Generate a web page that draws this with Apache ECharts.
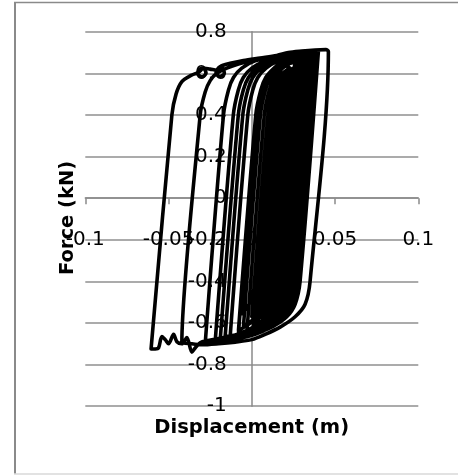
<!DOCTYPE html>
<html>
<head>
<meta charset="utf-8">
<script src="https://cdn.jsdelivr.net/npm/echarts@6/dist/echarts.min.js"></script>
<style>
  html, body { margin: 0; padding: 0; background: #fff; }
  #chart { width: 458px; height: 475px; }
</style>
</head>
<body>
<div id="chart"></div>
<script>
// Axis ticks
const xTicks = [-0.1, -0.05, 0, 0.05, 0.1];
const yTicks = [-1, -0.8, -0.6, -0.4, -0.2, 0, 0.2, 0.4, 0.6, 0.8];

// Force-displacement record [displacement (m), force (kN)], in time order
const buildUp = [
  [0.000, 0.000],
  [0.004, 0.40], [0.006, 0.51], [0.008, 0.565], [0.012, 0.60],
  [0.002, -0.40], [-0.001, -0.50], [-0.006, -0.555],
  [0.0035, 0.40], [0.0065, 0.52], [0.0095, 0.58], [0.0145, 0.625], [0.022, 0.655],
  [0.0115, -0.40], [0.0085, -0.51], [0.0035, -0.57], [-0.0035, -0.615], [-0.008, -0.635],
  [0.0024, 0.40], [0.0054, 0.52], [0.0084, 0.58], [0.0134, 0.625], [0.019, 0.66], [0.030, 0.695],
  [0.019, -0.40], [0.016, -0.51], [0.011, -0.57], [0.004, -0.615], [-0.006, -0.65], [-0.016, -0.665],
  [-0.0054, 0.40], [-0.0024, 0.52], [0.0006, 0.58], [0.0056, 0.625], [0.013, 0.66], [0.024, 0.69], [0.035, 0.70],
  [0.024, -0.40], [0.021, -0.51], [0.016, -0.57], [0.008, -0.62], [-0.002, -0.655], [-0.012, -0.675], [-0.022, -0.69],
  [-0.0111, 0.40], [-0.0081, 0.52], [-0.0051, 0.58], [0.000, 0.625], [0.008, 0.66], [0.020, 0.69], [0.030, 0.70], [0.038, 0.705],
  [0.027, -0.40], [0.024, -0.51], [0.019, -0.57], [0.011, -0.62], [0.002, -0.655], [-0.008, -0.675], [-0.018, -0.69], [-0.028, -0.70],
  [-0.017, 0.40], [-0.014, 0.52], [-0.011, 0.58], [-0.006, 0.625], [0.002, 0.66], [0.015, 0.68], [0.028, 0.695]
];

const strongShaking = [
  [0.017, -0.40], [0.014, -0.51], [0.009, -0.57], [0.001, -0.62], [-0.009, -0.655], [-0.020, -0.675],
  [-0.027, -0.685], [-0.031, -0.695], [-0.034, -0.72], [-0.036, -0.74], [-0.039, -0.67], [-0.042, -0.70],
  [-0.045, -0.69], [-0.047, -0.655], [-0.050, -0.70], [-0.052, -0.68], [-0.054, -0.665], [-0.056, -0.72],
  [-0.058, -0.725], [-0.0605, -0.725],
  [-0.048, 0.40], [-0.0455, 0.50], [-0.042, 0.56], [-0.0365, 0.59], [-0.032, 0.605], [-0.029, 0.625],
  [-0.0275, 0.60], [-0.030, 0.583], [-0.0325, 0.60], [-0.030, 0.625], [-0.025, 0.62], [-0.021, 0.615],
  [-0.018, 0.628], [-0.0165, 0.60], [-0.019, 0.585], [-0.0215, 0.603], [-0.019, 0.632], [-0.013, 0.648],
  [-0.005, 0.662], [0.005, 0.674], [0.015, 0.686], [0.022, 0.70], [0.030, 0.707], [0.038, 0.712],
  [0.0445, 0.714], [0.046, 0.705],
  [0.035, -0.40], [0.032, -0.51], [0.026, -0.57], [0.017, -0.62], [0.008, -0.655], [0.000, -0.68],
  [-0.010, -0.692], [-0.020, -0.70], [-0.030, -0.705], [-0.036, -0.70], [-0.042, -0.69],
  [-0.031, 0.40], [-0.028, 0.51], [-0.025, 0.565], [-0.021, 0.60], [-0.015, 0.625], [-0.008, 0.645],
  [0.002, 0.665], [0.015, 0.68], [0.028, 0.695], [0.040, 0.705]
];

const aftershocks = [
  [0.029, -0.40], [0.026, -0.51], [0.021, -0.57], [0.013, -0.615], [0.004, -0.645], [-0.006, -0.665], [-0.013, -0.675], [-0.019, -0.685],
  [-0.0081, 0.40], [-0.0051, 0.52], [-0.002, 0.58], [0.003, 0.625], [0.010, 0.655], [0.020, 0.675], [0.030, 0.69], [0.037, 0.698],
  [0.026, -0.40], [0.023, -0.51], [0.018, -0.57], [0.010, -0.615], [0.003, -0.64], [-0.003, -0.65],
  [0.0075, 0.40], [0.0105, 0.52], [0.0135, 0.58], [0.0185, 0.625], [0.025, 0.66], [0.033, 0.68],
  [0.0222, -0.40], [0.0192, -0.51], [0.0142, -0.57], [0.0062, -0.615], [-0.003, -0.645], [-0.013, -0.665],
  [-0.0024, 0.40], [0.0006, 0.52], [0.0036, 0.58], [0.0086, 0.625], [0.016, 0.66], [0.024, 0.675], [0.031, 0.685],
  [0.0202, -0.40], [0.0172, -0.51], [0.0122, -0.57], [0.006, -0.60], [0.004, -0.605],
  [0.014, 0.40], [0.017, 0.52], [0.020, 0.58], [0.025, 0.625], [0.030, 0.65],
  [0.0195, -0.40], [0.0165, -0.51], [0.0115, -0.57], [0.004, -0.615], [-0.003, -0.64], [-0.008, -0.65],
  [0.0025, 0.40], [0.0055, 0.52], [0.0085, 0.58], [0.0135, 0.625], [0.020, 0.655], [0.026, 0.67],
  [0.0153, -0.40], [0.0123, -0.51], [0.008, -0.565],
  [0.0177, 0.40], [0.0207, 0.52], [0.0237, 0.58], [0.0287, 0.625], [0.036, 0.66],
  [0.0254, -0.40], [0.0224, -0.51], [0.0174, -0.57], [0.0094, -0.615], [0.002, -0.635],
  [0.0124, 0.40], [0.0154, 0.52], [0.0184, 0.58], [0.024, 0.62],
  [0.014, -0.40], [0.011, -0.51], [0.006, -0.57],
  [0.0157, 0.40], [0.0187, 0.52], [0.0217, 0.58], [0.028, 0.63],
  [0.0177, -0.40], [0.0147, -0.51], [0.012, -0.55],
  [0.0215, 0.40], [0.0245, 0.52], [0.0275, 0.58], [0.032, 0.62]
];

const freeVibration = [
  [0.0218, -0.40], [0.0188, -0.51], [0.0138, -0.57], [0.009, -0.595],
  [0.019, 0.40], [0.022, 0.52], [0.025, 0.58], [0.027, 0.60],
  [0.017, -0.40], [0.014, -0.51], [0.009, -0.57], [0.004, -0.605], [0.001, -0.615],
  [0.0112, 0.40], [0.0142, 0.52], [0.0172, 0.58], [0.021, 0.61],
  [0.0109, -0.40], [0.0079, -0.51], [0.0029, -0.57], [-0.005, -0.615],
  [0.0052, 0.40], [0.0082, 0.52], [0.0112, 0.58], [0.0162, 0.625], [0.026, 0.655],
  [0.0155, -0.40], [0.0125, -0.51], [0.006, -0.575],
  [0.0158, 0.40], [0.0188, 0.52], [0.0218, 0.58], [0.0268, 0.625], [0.034, 0.66],
  [0.0234, -0.40], [0.0204, -0.51], [0.0154, -0.57], [0.010, -0.595],
  [0.020, 0.40], [0.023, 0.52], [0.026, 0.58], [0.030, 0.615],
  [0.0199, -0.40], [0.0169, -0.51], [0.0119, -0.57], [0.006, -0.605], [0.003, -0.615],
  [0.0132, 0.40], [0.0162, 0.52], [0.018, 0.555],
  [0.0085, -0.40], [0.0055, -0.51], [0.000, -0.57],
  [0.0097, 0.40], [0.0127, 0.52], [0.0157, 0.58], [0.023, 0.625],
  [0.0128, -0.40], [0.0115, -0.48],
  [0.0203, 0.40], [0.0233, 0.52], [0.025, 0.555],
  [0.0195, 0.0]
];

const record = buildUp.concat(strongShaking, aftershocks, freeVibration);

const FONT = 'DejaVu Sans';
const AXIS_GREY = '#8a8a8a';

// plot box
const PLOT = { left: 85.3, top: 31.7, width: 333, height: 374.5 };
const xMin = xTicks[0], xMax = xTicks[xTicks.length - 1];
const yMin = yTicks[0], yMax = yTicks[yTicks.length - 1];
// axes cross at the origin: shift each axis in from its edge of the plot box
const xAxisShift = -PLOT.height * (0 - yMin) / (yMax - yMin);
const yAxisShift = -PLOT.width * (0 - xMin) / (xMax - xMin);

const chart = echarts.init(document.getElementById('chart'), null, { renderer: 'canvas' });

chart.setOption({
  animation: false,
  backgroundColor: '#ffffff',
  grid: { left: PLOT.left, top: PLOT.top, width: PLOT.width, height: PLOT.height, containLabel: false },
  xAxis: {
    type: 'value',
    position: 'bottom',
    offset: xAxisShift,
    min: xMin,
    max: xMax,
    interval: 0.05,
    axisLine: { onZero: false, lineStyle: { color: AXIS_GREY, width: 1.5 } },
    axisTick: { show: true, inside: false, length: 6, lineStyle: { color: AXIS_GREY, width: 1.5 } },
    axisLabel: {
      margin: 32,
      color: '#000',
      fontFamily: FONT,
      fontSize: 20,
      showMinLabel: true,
      showMaxLabel: true,
      formatter: v => String(Math.round(v * 100) / 100)
    },
    splitLine: { show: false }
  },
  yAxis: {
    type: 'value',
    position: 'left',
    offset: yAxisShift,
    min: yMin,
    max: yMax,
    interval: 0.2,
    axisLine: { onZero: false, lineStyle: { color: AXIS_GREY, width: 1.5 } },
    axisTick: { show: false },
    axisLabel: {
      margin: 25,
      color: '#000',
      fontFamily: FONT,
      fontSize: 20,
      showMinLabel: true,
      showMaxLabel: true,
      formatter: v => String(Math.round(v * 10) / 10)
    },
    splitLine: { show: true, lineStyle: { color: '#8f8f8f', width: 1.5 } }
  },
  series: [{
    type: 'line',
    data: record,
    showSymbol: false,
    smooth: 0.3,
    clip: false,
    lineStyle: { color: '#000', width: 3.6, join: 'round', cap: 'round' },
    z: 3
  }],
  graphic: [
    // chart-area frame (left, top and bottom edges)
    { type: 'line', shape: { x1: 15, y1: 2.5, x2: 15, y2: 474 }, style: { stroke: '#8a8a8a', lineWidth: 2 } },
    { type: 'line', shape: { x1: 14, y1: 2.5, x2: 458, y2: 2.5 }, style: { stroke: '#8a8a8a', lineWidth: 1.5 } },
    { type: 'line', shape: { x1: 14, y1: 474, x2: 458, y2: 474 }, style: { stroke: '#d9d9d9', lineWidth: 1.5 } },
    // axis titles
    {
      type: 'text', x: 251.7, y: 428,
      style: { text: 'Displacement (m)', font: 'bold 19.5px "DejaVu Sans"', fill: '#000', align: 'center', verticalAlign: 'middle' }
    },
    {
      type: 'text', x: 68, y: 218, rotation: Math.PI / 2,
      style: { text: 'Force (kN)', font: 'bold 19.5px "DejaVu Sans"', fill: '#000', align: 'center', verticalAlign: 'middle' }
    }
  ]
});
</script>
</body>
</html>
